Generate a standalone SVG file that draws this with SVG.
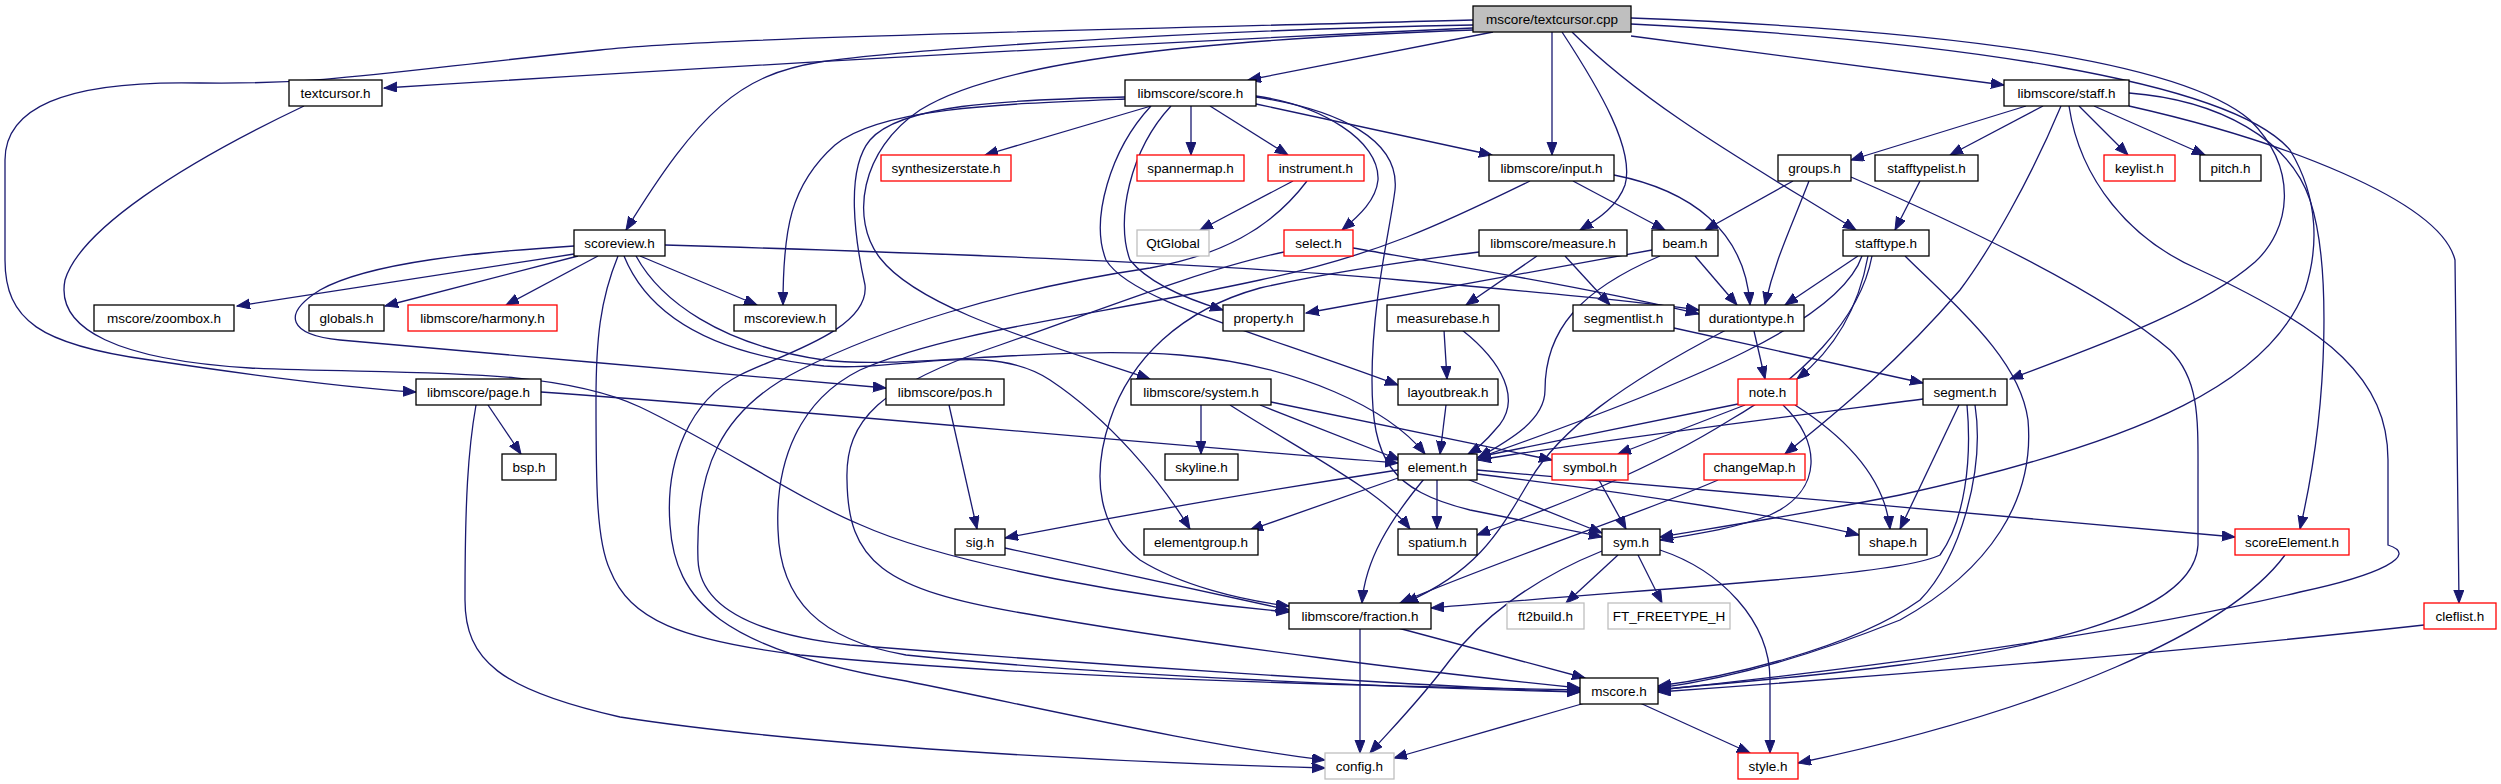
<svg xmlns="http://www.w3.org/2000/svg" width="2501" height="784" viewBox="0 0 2501 784">
<style>
.n rect{fill:#fff;stroke:#000;stroke-width:1.3}
.n.r rect{stroke:#ff0000}
.n.x rect{stroke:#bfbfbf}
.n.root rect{fill:#bfbfbf}
.n text{font-family:"Liberation Sans",Arial,sans-serif;font-size:13.5px;text-anchor:middle;fill:#000}
#edges path{fill:none;stroke:#191970;stroke-width:1.3;marker-end:url(#a)}
</style>
<defs>
<marker id="a" markerUnits="userSpaceOnUse" markerWidth="14" markerHeight="11" refX="13" refY="5" orient="auto">
<path d="M0,0 L13,5 L0,10 z" fill="#191970" stroke="#191970" stroke-width="1"/>
</marker>
</defs>
<rect width="2501" height="784" fill="#fff"/>
<g id="edges">
<path d="M1473,28 C1100,45 700,68 384,88"/>
<path d="M1473,20 C1100,30 700,38 600,50 C400,70 330,85 200,83 C60,80 5,110 5,160 L5,260 C5,320 40,345 150,360 C250,375 350,388 416,392"/>
<path d="M1473,25 C1200,30 900,50 820,62 C740,75 700,110 626,230"/>
<path d="M1493,32 L1248,80"/>
<path d="M1552,32 L1552,155"/>
<path d="M1562,32 C1600,90 1635,150 1625,185 C1618,205 1600,218 1580,230"/>
<path d="M1572,32 C1650,110 1760,170 1856,230"/>
<path d="M1631,36 L2004,85"/>
<path d="M1631,18 C1950,30 2180,60 2250,120 C2300,170 2290,230 2255,262 C2200,310 2100,345 2010,379"/>
<path d="M1631,24 C1950,40 2230,80 2290,150 C2320,200 2318,250 2305,290 C2270,380 2150,440 1900,495 C1800,515 1700,530 1660,537"/>
<path d="M1473,30 C1200,40 1000,60 920,110 C860,150 850,220 880,258 C920,310 1050,345 1150,379"/>
<path d="M304,106 C180,165 80,230 65,280 C55,330 120,360 250,368 C400,375 550,365 640,407 C720,445 800,500 861,525 C950,565 1150,600 1289,612"/>
<path d="M1151,106 L985,155"/>
<path d="M1191,106 L1191,155"/>
<path d="M1210,106 L1288,155"/>
<path d="M1256,96 C1320,105 1380,140 1378,180 C1376,200 1360,215 1342,230"/>
<path d="M1256,104 L1492,155"/>
<path d="M1151,106 C1110,150 1090,220 1106,260 C1130,300 1250,330 1398,385"/>
<path d="M1171,106 C1130,150 1115,220 1130,260 C1150,285 1190,300 1223,310"/>
<path d="M1125,99 C1000,104 880,108 835,145 C790,185 783,230 783,305"/>
<path d="M1125,97 C1000,100 900,105 870,140 C845,170 855,240 865,285 C870,330 780,355 740,375 C690,400 665,460 670,525 C675,600 720,650 906,681 C1050,710 1200,745 1325,760"/>
<path d="M1256,97 C1340,110 1400,140 1395,190 C1390,230 1372,300 1372,380 C1372,460 1390,490 1470,510 C1530,522 1570,530 1602,537"/>
<path d="M574,254 L237,306"/>
<path d="M578,256 L385,306"/>
<path d="M598,256 L506,305"/>
<path d="M640,256 L757,305"/>
<path d="M574,246 C480,252 370,262 320,290 C280,315 290,335 340,340 C500,355 750,375 886,388"/>
<path d="M665,245 C900,252 1200,262 1400,280 C1550,293 1650,303 1699,310"/>
<path d="M1353,248 C1450,265 1600,290 1699,314"/>
<path d="M618,256 C600,300 596,340 596,400 C596,480 596,540 610,570 C630,620 680,640 800,655 C1000,675 1300,685 1580,690"/>
<path d="M636,256 C660,300 720,345 824,360 C900,370 1050,345 1180,355 C1300,365 1390,410 1425,454"/>
<path d="M624,256 C650,320 720,355 824,366 C900,372 990,340 1050,380 C1110,420 1160,480 1190,529"/>
<path d="M1293,181 L1200,230"/>
<path d="M1307,181 C1270,230 1220,255 1150,268 C1000,290 880,330 800,370 C720,410 695,470 698,560 C700,610 760,635 850,645 C1100,665 1400,685 1580,692"/>
<path d="M1284,252 C1200,270 1100,310 1000,345 C880,385 845,420 847,480 C848,560 880,590 1028,614 C1200,645 1450,675 1580,688"/>
<path d="M1530,181 C1450,220 1380,255 1260,280 C1100,315 950,330 860,370 C800,400 775,460 778,530 C780,600 820,640 906,655 C1100,675 1400,688 1580,692"/>
<path d="M1479,252 C1400,262 1330,272 1260,288 C1180,310 1130,360 1110,420 C1090,480 1100,530 1140,560 C1180,585 1240,600 1289,606"/>
<path d="M1537,256 L1466,305"/>
<path d="M1565,256 L1610,305"/>
<path d="M1444,330 L1447,379"/>
<path d="M1462,330 C1500,360 1525,400 1495,430 C1485,442 1475,450 1468,454"/>
<path d="M1446,405 L1440,454"/>
<path d="M1674,328 L1923,383"/>
<path d="M1754,331 L1765,379"/>
<path d="M1726,330 C1620,385 1560,430 1530,480 C1500,530 1480,570 1405,603"/>
<path d="M1652,250 L1306,313"/>
<path d="M1695,256 L1737,305"/>
<path d="M1660,256 C1580,290 1545,330 1545,390 C1545,420 1510,440 1478,458"/>
<path d="M1573,181 L1665,230"/>
<path d="M1614,175 C1690,190 1745,230 1750,305"/>
<path d="M1793,181 L1705,230"/>
<path d="M1809,181 C1790,230 1775,260 1765,305"/>
<path d="M1851,177 C1950,220 2100,290 2170,350 C2200,380 2198,420 2198,480 L2198,545 C2195,600 2100,640 1900,665 C1800,678 1700,685 1658,690"/>
<path d="M1858,256 L1785,305"/>
<path d="M1868,256 C1860,300 1840,345 1797,379"/>
<path d="M1862,256 C1840,320 1700,380 1478,458"/>
<path d="M1872,256 C1860,320 1800,380 1730,420 C1650,470 1560,505 1477,535"/>
<path d="M1905,256 C1960,310 2020,360 2028,420 C2035,500 1990,570 1900,620 C1800,660 1720,680 1658,688"/>
<path d="M2026,106 L1851,160"/>
<path d="M2043,106 L1950,155"/>
<path d="M2079,106 L2128,155"/>
<path d="M2094,106 L2205,155"/>
<path d="M2061,106 C2030,180 1990,250 1960,290 C1900,360 1840,410 1785,454"/>
<path d="M2069,106 C2080,180 2130,240 2200,270 C2330,330 2388,380 2388,460 L2388,545 C2420,555 2380,575 2300,592 C2100,640 1800,675 1658,690"/>
<path d="M2129,93 C2220,100 2290,140 2310,200 C2330,260 2330,400 2300,529"/>
<path d="M2129,106 C2280,140 2440,200 2455,260 L2459,603"/>
<path d="M1920,181 L1895,230"/>
<path d="M1923,399 C1800,415 1600,440 1478,460"/>
<path d="M1959,405 L1900,529"/>
<path d="M1967,405 C1972,460 1965,520 1940,555 C1900,575 1700,585 1431,608"/>
<path d="M1975,405 C1985,470 1960,560 1920,600 C1850,650 1720,678 1658,686"/>
<path d="M2424,625 C2200,650 1900,675 1658,692"/>
<path d="M1398,470 C1300,485 1150,510 1005,538"/>
<path d="M1398,478 L1250,530"/>
<path d="M1437,479 L1437,529"/>
<path d="M1424,479 C1390,520 1365,560 1362,603"/>
<path d="M1467,479 L1602,533"/>
<path d="M1477,474 C1650,495 1800,520 1859,535"/>
<path d="M1477,470 C1700,490 2000,515 2235,537"/>
<path d="M1738,404 L1478,457"/>
<path d="M1745,405 L1618,454"/>
<path d="M1783,405 C1820,440 1825,490 1770,515 C1730,530 1690,535 1660,540"/>
<path d="M1795,405 C1850,440 1885,480 1890,529"/>
<path d="M1599,480 L1626,529"/>
<path d="M1718,480 C1650,510 1500,560 1400,603"/>
<path d="M1201,405 L1201,454"/>
<path d="M1260,405 L1400,460"/>
<path d="M1271,402 L1552,460"/>
<path d="M1230,405 C1300,450 1380,490 1410,529"/>
<path d="M488,405 L521,454"/>
<path d="M541,392 C800,410 1100,440 1398,463"/>
<path d="M476,405 C468,450 465,500 465,600 C465,660 500,690 620,717 C800,745 1100,762 1325,768"/>
<path d="M949,405 L977,529"/>
<path d="M1005,548 L1289,610"/>
<path d="M1398,628 L1585,678"/>
<path d="M1360,628 L1360,753"/>
<path d="M1618,555 L1566,603"/>
<path d="M1638,555 L1662,603"/>
<path d="M1602,551 C1530,580 1480,620 1450,660 C1420,700 1395,725 1370,753"/>
<path d="M1660,550 C1720,570 1770,620 1770,680 L1770,753"/>
<path d="M1585,703 L1394,758"/>
<path d="M1640,703 L1750,753"/>
<path d="M2285,555 C2230,630 2050,710 1798,763"/>
</g>
<g id="n_tc" class="n root"><rect x="1473" y="6" width="158" height="26"/><text x="1552" y="23.5">mscore/textcursor.cpp</text></g>
<g id="n_textcursor" class="n"><rect x="289" y="80" width="93" height="26"/><text x="335.5" y="97.5">textcursor.h</text></g>
<g id="n_score" class="n"><rect x="1125" y="80" width="131" height="26"/><text x="1190.5" y="97.5">libmscore/score.h</text></g>
<g id="n_staff" class="n"><rect x="2004" y="80" width="125" height="26"/><text x="2066.5" y="97.5">libmscore/staff.h</text></g>
<g id="n_synth" class="n r"><rect x="881" y="155" width="130" height="26"/><text x="946" y="172.5">synthesizerstate.h</text></g>
<g id="n_spanner" class="n r"><rect x="1137" y="155" width="107" height="26"/><text x="1190.5" y="172.5">spannermap.h</text></g>
<g id="n_instrument" class="n r"><rect x="1268" y="155" width="96" height="26"/><text x="1316" y="172.5">instrument.h</text></g>
<g id="n_input" class="n"><rect x="1489" y="155" width="125" height="26"/><text x="1551.5" y="172.5">libmscore/input.h</text></g>
<g id="n_groups" class="n"><rect x="1778" y="155" width="73" height="26"/><text x="1814.5" y="172.5">groups.h</text></g>
<g id="n_stafftypelist" class="n"><rect x="1875" y="155" width="103" height="26"/><text x="1926.5" y="172.5">stafftypelist.h</text></g>
<g id="n_keylist" class="n r"><rect x="2104" y="155" width="71" height="26"/><text x="2139.5" y="172.5">keylist.h</text></g>
<g id="n_pitch" class="n"><rect x="2200" y="155" width="61" height="26"/><text x="2230.5" y="172.5">pitch.h</text></g>
<g id="n_scoreview" class="n"><rect x="574" y="230" width="91" height="26"/><text x="619.5" y="247.5">scoreview.h</text></g>
<g id="n_qtglobal" class="n x"><rect x="1137" y="230" width="72" height="26"/><text x="1173" y="247.5">QtGlobal</text></g>
<g id="n_select" class="n r"><rect x="1284" y="230" width="69" height="26"/><text x="1318.5" y="247.5">select.h</text></g>
<g id="n_measure" class="n"><rect x="1479" y="230" width="148" height="26"/><text x="1553" y="247.5">libmscore/measure.h</text></g>
<g id="n_beam" class="n"><rect x="1652" y="230" width="66" height="26"/><text x="1685" y="247.5">beam.h</text></g>
<g id="n_stafftype" class="n"><rect x="1843" y="230" width="86" height="26"/><text x="1886" y="247.5">stafftype.h</text></g>
<g id="n_zoombox" class="n"><rect x="94" y="305" width="140" height="26"/><text x="164" y="322.5">mscore/zoombox.h</text></g>
<g id="n_globals" class="n"><rect x="309" y="305" width="75" height="26"/><text x="346.5" y="322.5">globals.h</text></g>
<g id="n_harmony" class="n r"><rect x="408" y="305" width="149" height="26"/><text x="482.5" y="322.5">libmscore/harmony.h</text></g>
<g id="n_mscoreview" class="n"><rect x="734" y="305" width="102" height="26"/><text x="785" y="322.5">mscoreview.h</text></g>
<g id="n_property" class="n"><rect x="1223" y="305" width="81" height="26"/><text x="1263.5" y="322.5">property.h</text></g>
<g id="n_measurebase" class="n"><rect x="1387" y="305" width="112" height="26"/><text x="1443" y="322.5">measurebase.h</text></g>
<g id="n_segmentlist" class="n"><rect x="1573" y="305" width="101" height="26"/><text x="1623.5" y="322.5">segmentlist.h</text></g>
<g id="n_durationtype" class="n"><rect x="1699" y="305" width="105" height="26"/><text x="1751.5" y="322.5">durationtype.h</text></g>
<g id="n_page" class="n"><rect x="416" y="379" width="125" height="26"/><text x="478.5" y="396.5">libmscore/page.h</text></g>
<g id="n_pos" class="n"><rect x="886" y="379" width="118" height="26"/><text x="945" y="396.5">libmscore/pos.h</text></g>
<g id="n_system" class="n"><rect x="1131" y="379" width="140" height="26"/><text x="1201" y="396.5">libmscore/system.h</text></g>
<g id="n_layoutbreak" class="n"><rect x="1398" y="379" width="100" height="26"/><text x="1448" y="396.5">layoutbreak.h</text></g>
<g id="n_note" class="n r"><rect x="1738" y="379" width="59" height="26"/><text x="1767.5" y="396.5">note.h</text></g>
<g id="n_segment" class="n"><rect x="1923" y="379" width="84" height="26"/><text x="1965" y="396.5">segment.h</text></g>
<g id="n_bsp" class="n"><rect x="502" y="454" width="54" height="26"/><text x="529" y="471.5">bsp.h</text></g>
<g id="n_skyline" class="n"><rect x="1165" y="454" width="73" height="26"/><text x="1201.5" y="471.5">skyline.h</text></g>
<g id="n_element" class="n"><rect x="1398" y="454" width="79" height="26"/><text x="1437.5" y="471.5">element.h</text></g>
<g id="n_symbol" class="n r"><rect x="1552" y="454" width="76" height="26"/><text x="1590" y="471.5">symbol.h</text></g>
<g id="n_changemap" class="n r"><rect x="1704" y="454" width="101" height="26"/><text x="1754.5" y="471.5">changeMap.h</text></g>
<g id="n_sig" class="n"><rect x="955" y="529" width="50" height="26"/><text x="980" y="546.5">sig.h</text></g>
<g id="n_elementgroup" class="n"><rect x="1144" y="529" width="114" height="26"/><text x="1201" y="546.5">elementgroup.h</text></g>
<g id="n_spatium" class="n"><rect x="1398" y="529" width="79" height="26"/><text x="1437.5" y="546.5">spatium.h</text></g>
<g id="n_sym" class="n"><rect x="1602" y="529" width="58" height="26"/><text x="1631" y="546.5">sym.h</text></g>
<g id="n_shape" class="n"><rect x="1859" y="529" width="68" height="26"/><text x="1893" y="546.5">shape.h</text></g>
<g id="n_scoreelement" class="n r"><rect x="2235" y="529" width="114" height="26"/><text x="2292" y="546.5">scoreElement.h</text></g>
<g id="n_fraction" class="n"><rect x="1289" y="603" width="142" height="26"/><text x="1360" y="620.5">libmscore/fraction.h</text></g>
<g id="n_ft2build" class="n x"><rect x="1507" y="603" width="77" height="26"/><text x="1545.5" y="620.5">ft2build.h</text></g>
<g id="n_freetype" class="n x"><rect x="1608" y="603" width="122" height="26"/><text x="1669" y="620.5">FT_FREETYPE_H</text></g>
<g id="n_cleflist" class="n r"><rect x="2424" y="603" width="72" height="26"/><text x="2460" y="620.5">cleflist.h</text></g>
<g id="n_mscore" class="n"><rect x="1580" y="678" width="78" height="26"/><text x="1619" y="695.5">mscore.h</text></g>
<g id="n_config" class="n x"><rect x="1325" y="753" width="69" height="26"/><text x="1359.5" y="770.5">config.h</text></g>
<g id="n_style" class="n r"><rect x="1738" y="753" width="60" height="26"/><text x="1768" y="770.5">style.h</text></g>
</svg>
